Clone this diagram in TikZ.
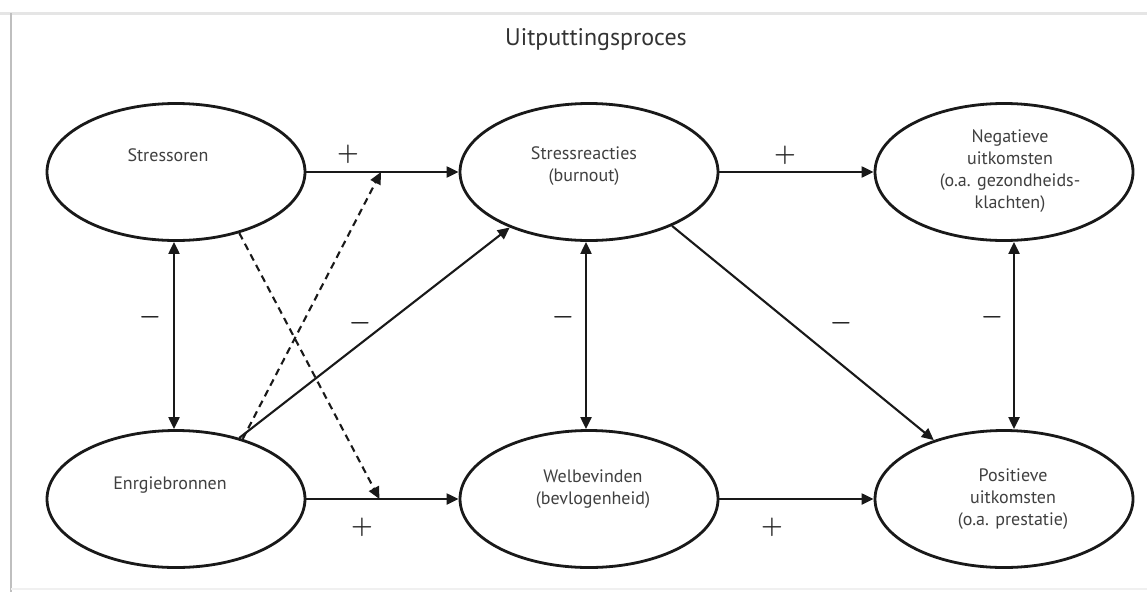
\documentclass[tikz,border=0pt]{standalone}
\usepackage{fontspec}
\setmainfont{PT Sans}
\usetikzlibrary{shapes.geometric, arrows.meta, calc}
\tikzset{
x=1pt, y=-1pt, % one unit is one pixel of the scan, y runs downwards
>={Triangle[length=12pt, width=11pt]},
block/.style={ellipse, draw=black!90, line width=2.8pt, minimum width=258pt, minimum height=137pt, inner sep=0pt}, % the six ellipses
txt/.style={text=black!75, font=\fontsize{18}{22}\selectfont, align=center}, % text inside an ellipse
sign/.style={text=black!85, font=\fontsize{26}{26}\selectfont\boldmath}, % the + and - signs
link/.style={->, line width=2.1pt, draw=black!90},
dlink/.style={link, dash pattern=on 7pt off 5pt},
}
\begin{document}
\begin{tikzpicture}
\useasboundingbox (0,0) rectangle (1147,592);
\fill[white] (0,0) rectangle (1147,592);
\draw[black!10, line width=3pt] (0,13) -- (1147,13);
\draw[black!25, line width=2pt] (11,13) -- (11,592);
\draw[black!6, line width=2pt] (11,589) -- (1147,589);

\node[txt, font=\fontsize{24}{24}\selectfont, text=black!80] (title) at (596,40) {Uitputtingsproces};

\node[block] (S) at (176,172) {};
\node[block] (R) at (589,172) {};
\node[block] (N) at (1004,172) {};
\node[block] (E) at (176,499) {};
\node[block] (W) at (589,499) {};
\node[block] (P) at (1004,499) {};

\node[txt] (tS) at (168,155) {Stressoren};
\node[txt] (tR) at (584,166) {Stressreacties\\(burnout)};
\node[txt] (tN) at (1010,171) {Negatieve\\uitkomsten\\(o.a. gezondheids-\\klachten)};
\node[txt] (tE) at (170,485) {Enrgiebronnen};
\node[txt] (tW) at (593,489) {Welbevinden\\(bevlogenheid)};
\node[txt] (tP) at (1013,499) {Positieve\\uitkomsten\\(o.a. prestatie)};

\draw[link] (S) -- (R);
\draw[link] (R) -- (N);
\draw[link] (E) -- (W);
\draw[link] (W) -- (P);
\draw[link, <->] ([xshift=-2pt]S.south) -- ([xshift=-2pt]E.north);
\draw[link, <->] ([xshift=-3pt]R.south) -- ([xshift=-3pt]W.north);
\draw[link, <->] ([xshift=10pt]N.south) -- ([xshift=10pt]P.north);
\draw[link] (E.44) -- (R.215);
\draw[link] (R.-33) -- (P.140);

\coordinate (mtop) at ($(S.east)!0.49!(R.west)$);
\coordinate (mbot) at ($(E.east)!0.48!(W.west)$);
\draw[dlink] (E.42) -- (mtop);
\draw[dlink] (S.-44) -- (mbot);

\node[sign] (p1) at (348,154) {$+$};
\node[sign] (p2) at (785,155) {$+$};
\node[sign] (p3) at (362,527) {$+$};
\node[sign] (p4) at (772,527) {$+$};
\node[sign] (n1) at (150,317) {$-$};
\node[sign] (n2) at (563,317) {$-$};
\node[sign] (n3) at (992,317) {$-$};
\node[sign] (n4) at (360,323) {$-$};
\node[sign] (n5) at (841,323) {$-$};
\end{tikzpicture}
\end{document}
